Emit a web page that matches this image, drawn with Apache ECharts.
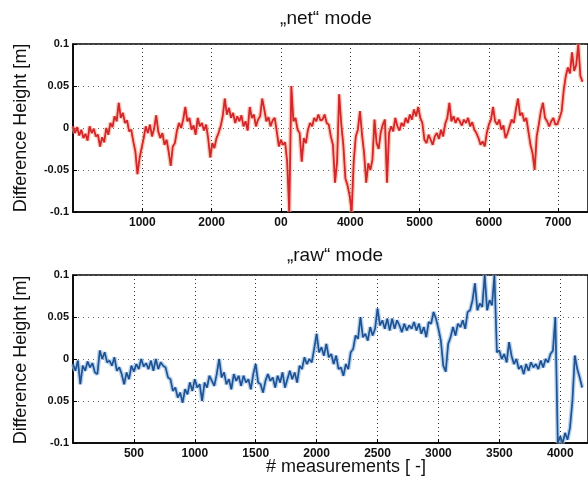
<!DOCTYPE html>
<html>
<head>
<meta charset="utf-8">
<script src="https://cdn.jsdelivr.net/npm/echarts@6/dist/echarts.min.js"></script>
<style>
html,body{margin:0;padding:0;background:#fff;}
#c{width:588px;height:481px;}
</style>
</head>
<body>
<div id="c"></div>
<script>
// ---- DATA ----
const netTitle = '\u201Enet\u201C mode';
const rawTitle = '\u201Eraw\u201C mode';
const yAxisTitle = 'Difference Height [m]';
const xAxisTitle = '# measurements [ -]';

// "net" mode: difference height in millimetres, one reading every netStep measurements
const netStep = 30;
const netMM = [
  2, -6, 1, -9, -2, -12, -7, -15, 2, -6,
  -1, -10, -8, -22, -11, -17, 0, -8, 6, 1,
  14, 8, 30, 12, 18, 6, 9, -4, -2, -16,
  -28, -55, -36, -24, -12, 2, -6, 4, -10, -1,
  15, -4, -12, -6, -20, -14, -28, -45, -22, -18,
  -3, 6, 0, 10, 25, 8, 12, -2, 3, -8,
  12, 2, 6, -3, 4, -12, -35, -18, -24, -12,
  -6, 2, 14, 35, 16, 24, 12, 18, 6, 14,
  8, 15, 2, 8, -3, 25, 12, 16, 2, 10,
  14, 35, 22, 8, 13, 2, 9, 12, -4, -22,
  -14, -20, -17, -40, -100, 50, 8, 12, -2, -6,
  -40, -12, -18, -2, 6, 2, 12, 8, 16, 9,
  10, 16, 6, 4, -10, -20, -65, -40, 40, 5,
  -20, -60, -68, -80, -100, -40, -10, -2, 20, -8,
  -30, -65, -42, -50, -38, 10, -18, -25, -5, 4,
  10, -65, -6, 2, -4, 12, 2, -3, 6, 2,
  12, 6, 16, 10, 22, 14, 25, 12, 6, -14,
  -18, -8, -14, -20, -10, -6, -13, -2, -10, 5,
  12, 30, 8, 14, 6, 12, 8, 3, 10, 6,
  12, 2, 7, -2, -6, -12, -20, -16, -22, -6,
  4, 10, 25, 8, 4, 10, -2, 3, -12, -6,
  2, 10, 6, 22, 35, 15, 18, 8, 12, -4,
  -20, -30, -50, -10, 4, 20, 30, 12, 8, 2,
  8, 12, 4, 5, 12, 20, 45, 62, 72, 65,
  90, 68, 75, 100, 62, 55
];

// "raw" mode: difference height in millimetres, one reading every rawStep measurements
const rawStep = 20;
const rawMM = [
  -6, -14, -2, -30, -8, -14, -3, -10, -5, -16,
  -18, 10, 0, 8, -4, -2, -8, 2, -14, -10,
  -18, -30, -16, -24, -8, -15, -6, -12, 0, -9,
  -5, -12, -2, -14, 0, -12, -4, -8, -10, -22,
  -24, -38, -34, -46, -40, -52, -36, -42, -28, -38,
  -24, -34, -30, -50, -28, -34, -20, -26, -32, -18,
  0, -22, -16, -30, -24, -36, -18, -26, -20, -32,
  -20, -28, -24, -36, -18, -6, -28, -30, -40, -26,
  -18, -26, -22, -34, -20, -28, -16, -34, -24, -14,
  -24, -16, -28, -8, -12, 2, -6, 0, -4, 12,
  30, 8, 14, 4, 18, 2, 6, -6, 4, -12,
  -10, -20, -6, -12, 8, 12, 28, 24, 50, 26,
  30, 22, 38, 28, 36, 60, 40, 46, 36, 48,
  34, 48, 36, 46, 40, 32, 42, 34, 40, 36,
  44, 34, 42, 30, 38, 26, 44, 42, 56, 48,
  36, 22, -8, -15, 18, 26, 38, 28, 42, 38,
  46, 36, 56, 58, 70, 90, 58, 66, 62, 100,
  58, 70, 64, 100, 8, 10, 0, 6, -4, 20,
  4, -6, 0, -12, -8, -18, -6, -14, -4, -10,
  -6, -12, -2, -10, 0, -4, 6, 10, 50, -100,
  -92, -100, -88, -96, -82, -50, 4, -12, -22, -34
];

const netXTickValues = [1000, 2000, 3000, 4000, 5000, 6000, 7000];
const netXTickLabels = ['1000', '2000', '00', '4000', '5000', '6000', '7000'];
const rawXTickValues = [500, 1000, 1500, 2000, 2500, 3000, 3500, 4000];
const rawXTickLabels = ['500', '1000', '1500', '2000', '2500', '3000', '3500', '4000'];
const yTickValues = [-0.1, -0.05, 0, 0.05, 0.1];
const netYTickLabels = ['-0.1', '-0.05', '0', '0.05', '0.1'];
const rawYTickLabels = ['-0.1', '0.05', '0', '0.05', '0.1'];

// ---- BUILD ----
const toPairs = (arr, step) => arr.map((mm, i) => [i * step, mm / 1000]);
const netData = toPairs(netMM, netStep);
const rawData = toPairs(rawMM, rawStep);

function labelFor(values, labels) {
  return function (v) {
    for (let i = 0; i < values.length; i++) {
      if (Math.abs(values[i] - v) < 1e-7) return labels[i];
    }
    return '';
  };
}

const FONT = "'Liberation Sans', Arial, sans-serif";

function xAxisCfg(gridIndex, max, interval, values, labels) {
  return {
    type: 'value', gridIndex: gridIndex, min: 0, max: max, interval: interval,
    axisLine: { show: true, onZero: false, lineStyle: { color: '#000', width: 1.5 } },
    axisTick: { show: true, inside: true, length: 4, lineStyle: { color: '#000' } },
    axisLabel: { margin: 5, fontSize: 12, showMinLabel: false, showMaxLabel: false,
      formatter: labelFor(values, labels), fontFamily: FONT, fontWeight: 'bold', color: '#111' },
    splitLine: { show: true, lineStyle: { color: '#333', width: 1, type: [1, 3] } }
  };
}
function yAxisCfg(gridIndex, labels) {
  return {
    type: 'value', gridIndex: gridIndex, min: -0.1, max: 0.1, interval: 0.05,
    axisLine: { show: true, onZero: false, lineStyle: { color: '#000', width: 1.5 } },
    axisTick: { show: true, inside: true, length: 4, lineStyle: { color: '#000' } },
    axisLabel: { margin: 4, formatter: labelFor(yTickValues, labels),
      fontFamily: FONT, fontSize: 11, fontWeight: 'bold', color: '#111' },
    splitLine: { show: true, lineStyle: { color: '#666', width: 1, type: [1, 4] } }
  };
}

const chart = echarts.init(document.getElementById('c'), null, { renderer: 'canvas' });
chart.setOption({
  animation: false,
  backgroundColor: '#fff',
  grid: [
    { left: 73, right: -5, top: 44, height: 168, show: true, borderColor: '#000', borderWidth: 1.5 },
    { left: 73, right: -5, top: 275, height: 168, show: true, borderColor: '#000', borderWidth: 1.5 }
  ],
  xAxis: [
    xAxisCfg(0, 7430, 1000, netXTickValues, netXTickLabels),
    xAxisCfg(1, 4228, 500, rawXTickValues, rawXTickLabels)
  ],
  yAxis: [
    yAxisCfg(0, netYTickLabels),
    yAxisCfg(1, rawYTickLabels)
  ],
  series: [
    { type: 'line', xAxisIndex: 0, yAxisIndex: 0, data: netData, symbol: 'none', silent: true,
      lineStyle: { color: '#f6a889', width: 4.5, opacity: 0.6 } },
    { type: 'line', xAxisIndex: 0, yAxisIndex: 0, data: netData, symbol: 'none', silent: true,
      lineStyle: { color: '#e3242b', width: 1.8 } },
    { type: 'line', xAxisIndex: 0, yAxisIndex: 0, data: netData, symbol: 'none', silent: true,
      lineStyle: { color: '#a8323a', width: 0.6, opacity: 0.7 } },
    { type: 'line', xAxisIndex: 1, yAxisIndex: 1, data: rawData, symbol: 'none', silent: true,
      lineStyle: { color: '#9cc0e6', width: 4.5, opacity: 0.7 } },
    { type: 'line', xAxisIndex: 1, yAxisIndex: 1, data: rawData, symbol: 'none', silent: true,
      lineStyle: { color: '#2f6db5', width: 1.8 } },
    { type: 'line', xAxisIndex: 1, yAxisIndex: 1, data: rawData, symbol: 'none', silent: true,
      lineStyle: { color: '#17325e', width: 0.7, opacity: 0.8 } }
  ],
  graphic: [
    { type: 'text', x: 326, y: 19, style: { text: netTitle, font: "19px " + FONT, fill: '#111', align: 'center', verticalAlign: 'middle' } },
    { type: 'text', x: 335, y: 256, style: { text: rawTitle, font: "19px " + FONT, fill: '#111', align: 'center', verticalAlign: 'middle' } },
    { type: 'text', x: 346, y: 467, style: { text: xAxisTitle, font: "18px " + FONT, fill: '#111', align: 'center', verticalAlign: 'middle' } },
    { type: 'text', x: 21, y: 128, rotation: Math.PI / 2, style: { text: yAxisTitle, font: "18px " + FONT, fill: '#111', align: 'center', verticalAlign: 'middle' } },
    { type: 'text', x: 21, y: 360, rotation: Math.PI / 2, style: { text: yAxisTitle, font: "18px " + FONT, fill: '#111', align: 'center', verticalAlign: 'middle' } }
  ]
});
</script>
</body>
</html>
